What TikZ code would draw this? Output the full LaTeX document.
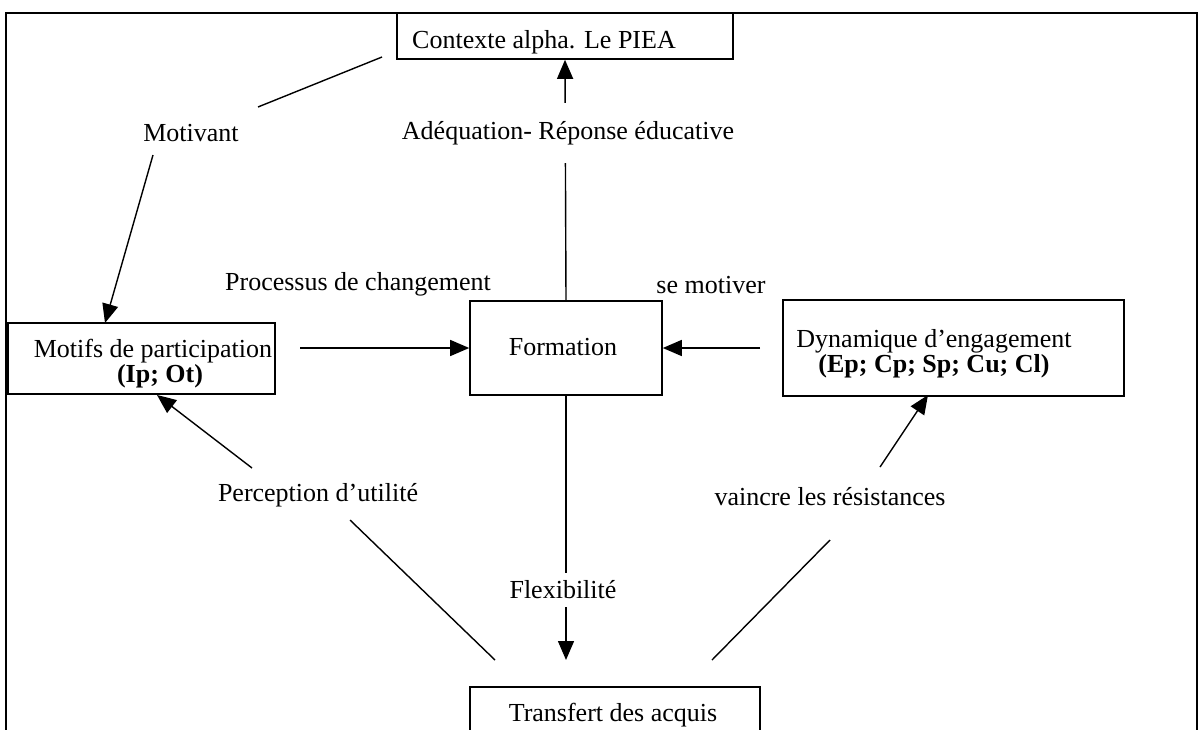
\documentclass[tikz,border=0pt]{standalone}
\usepackage{fontspec}
\setmainfont{Liberation Serif}
\usetikzlibrary{arrows.meta}
\begin{document}
\begin{tikzpicture}[x=1pt,y=-1pt,
  box/.style={draw, line width=1.6pt, inner sep=0pt},
  lab/.style={font=\fontsize{26}{25}\selectfont, inner sep=1pt, align=center},
  conn/.style={line width=1.4pt},
  arr/.style={conn, -{Triangle[length=19pt,width=16pt]}}]
\useasboundingbox (0,0) rectangle (1203,729);
% outer frame
\draw[line width=2.2pt] (6,745) -- (6,13) -- (1197,13) -- (1197,745);
% boxes
\node[box, minimum width=336pt, minimum height=46pt] (ctx) at (565,36) {};
\node[box, minimum width=267pt, minimum height=71pt] (mot) at (141.5,358.5) {};
\node[box, minimum width=192pt, minimum height=94pt] (form) at (566,348) {};
\node[box, minimum width=341pt, minimum height=96pt] (dyn) at (953.5,348) {};
\node[box, minimum width=290pt, minimum height=80pt] (tra) at (615,727) {};
% box texts
\node[lab] (ctxT) at (544,42) {Contexte alpha. Le PIEA};
\node[lab] (motT) at (153,364) {Motifs de participation\\\hspace*{14pt}\textbf{(Ip; Ot)}};
\node[lab] (formT) at (563,347) {Formation};
\node[lab] (dynT) at (934,354) {Dynamique d’engagement\\\textbf{(Ep; Cp; Sp; Cu; Cl)}};
\node[lab, anchor=base] (traT) at (613,721) {Transfert des acquis};
% coordinates
\coordinate (c1) at (382,57);
\coordinate (c2) at (258,107);
\coordinate (c3) at (153,155);
\coordinate (c4) at (300,348);
\coordinate (c5) at (760,348);
\coordinate (c6) at (252,468);
\coordinate (c7) at (880,467);
\coordinate (c8) at (350,520);
\coordinate (c9) at (495,660);
\coordinate (c10) at (830,540);
\coordinate (c11) at (712,660);
\coordinate (c12) at (566,660);
% connectors
\draw[conn] (c1) -- (c2);
\draw[arr] (c3) -- (105,323);
\draw[arr] (form.north) -- (ctx.south);
\draw[arr] (c4) -- (form.west);
\draw[arr] (c5) -- (form.east);
\draw[arr] (form.south) -- (c12);
\draw[arr] (c6) -- (157,395);
\draw[arr] (c7) -- (928,395);
\draw[conn] (c8) -- (c9);
\draw[conn] (c10) -- (c11);
% labels
\node[lab] (motiv) at (191,133) {Motivant};
\node[lab, fill=white, inner ysep=18pt] (adeq) at (568,133) {Adéquation- Réponse éducative};
\node[lab] (proc) at (358,284) {Processus de changement};
\node[lab] (semot) at (711,285) {se motiver};
\node[lab] (perc) at (318,495) {Perception d’utilité};
\node[lab] (vainc) at (830,497) {vaincre les résistances};
\node[lab, fill=white, inner ysep=8pt] (flex) at (563,590) {Flexibilité};
\end{tikzpicture}
\end{document}
